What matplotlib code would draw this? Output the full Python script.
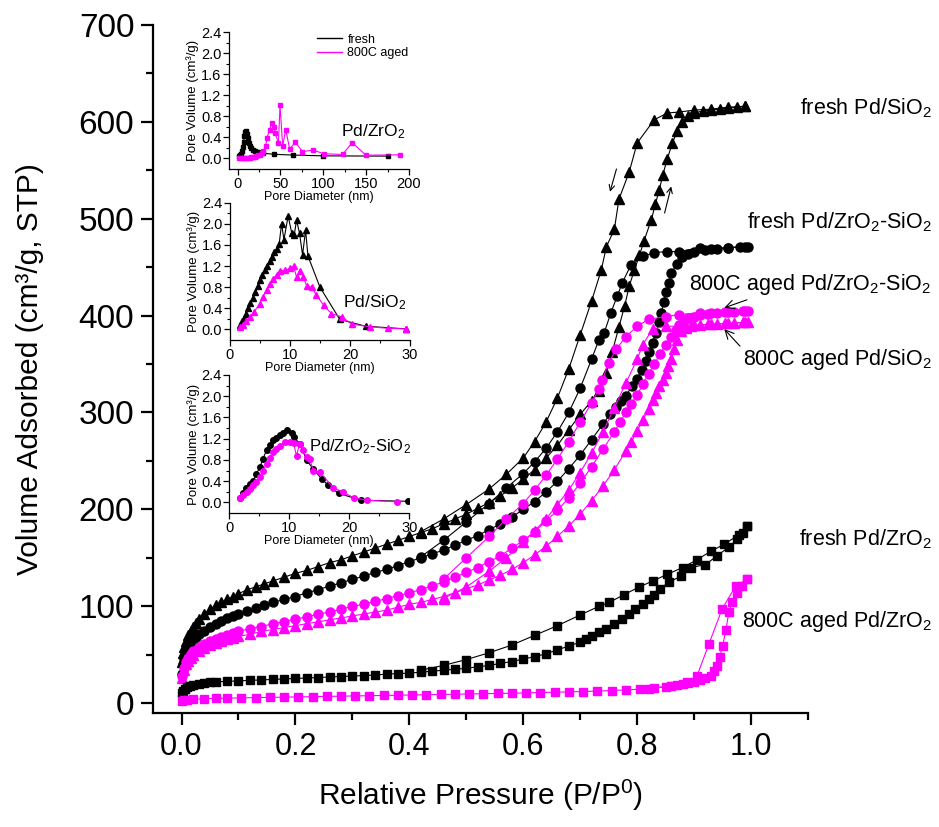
import numpy as np
import matplotlib
matplotlib.use("Agg")
from matplotlib import pyplot as plt

# ---- isotherm data (P/P0, cm3/g STP) ----
# fresh Pd/SiO2 (black triangles)
sio2_fresh_ads_p = [0.001, 0.003, 0.005, 0.008, 0.012, 0.016, 0.02, 0.025, 0.03, 0.04, 0.05, 0.06, 0.07, 0.08,
                    0.09, 0.10, 0.115, 0.13, 0.145, 0.16, 0.18, 0.20, 0.22, 0.24, 0.26, 0.28, 0.30, 0.32, 0.34,
                    0.36, 0.38, 0.40, 0.42, 0.44, 0.46, 0.48, 0.50, 0.52, 0.54, 0.56, 0.58, 0.60, 0.62, 0.64,
                    0.66, 0.68, 0.70, 0.72, 0.733, 0.746, 0.756, 0.768, 0.778, 0.786, 0.795, 0.804, 0.812, 0.825,
                    0.832, 0.839, 0.845, 0.853, 0.862, 0.87, 0.879, 0.89, 0.90, 0.915, 0.93, 0.945, 0.96, 0.975,
                    0.99]
sio2_fresh_ads_v = [42, 52, 58, 64, 70, 75, 79, 83, 87, 92, 97, 101, 104, 107,
                    110, 113, 117, 120, 123, 126, 130, 134, 137, 141, 145, 148, 152, 156, 160,
                    164, 168, 172, 176, 180, 185, 190, 195, 201, 207, 214, 222, 231, 241, 253,
                    266, 282, 298, 312, 322, 341, 362, 388, 410, 430, 447, 462, 477, 499,
                    515, 530, 545, 562, 578, 590, 600, 606, 609, 611, 612, 613, 614, 615,
                    616]
sio2_fresh_des_p = [0.99, 0.96, 0.93, 0.90, 0.874, 0.853, 0.83, 0.80, 0.786, 0.768, 0.76, 0.746, 0.737, 0.72, 0.70,
                    0.68, 0.66, 0.64, 0.62, 0.60, 0.57, 0.54, 0.50, 0.46, 0.42]
sio2_fresh_des_v = [616, 615, 613, 612, 610, 609, 602, 578, 548, 520, 489, 471, 447, 415, 380,
                    345, 315, 290, 270, 253, 236, 221, 205, 190, 177]

# fresh Pd/ZrO2-SiO2 (black circles)
zs_fresh_ads_p = [0.001, 0.003, 0.005, 0.008, 0.012, 0.016, 0.02, 0.025, 0.03, 0.04, 0.05, 0.06, 0.07, 0.08,
                  0.09, 0.10, 0.115, 0.13, 0.145, 0.16, 0.18, 0.20, 0.22, 0.24, 0.26, 0.28, 0.30, 0.32, 0.34,
                  0.36, 0.38, 0.40, 0.42, 0.44, 0.46, 0.48, 0.50, 0.52, 0.54, 0.56, 0.58, 0.60, 0.62, 0.64,
                  0.66, 0.68, 0.70, 0.72, 0.74, 0.752, 0.763, 0.772, 0.78, 0.791, 0.80, 0.809, 0.815, 0.821,
                  0.827, 0.833, 0.838, 0.842, 0.847, 0.851, 0.856, 0.86, 0.87, 0.879, 0.89, 0.90, 0.92, 0.94,
                  0.96, 0.98, 0.995]
zs_fresh_ads_v = [30, 40, 46, 52, 57, 61, 64, 68, 71, 75, 79, 82, 85, 88,
                  90, 92, 95, 98, 101, 104, 107, 110, 114, 117, 121, 124, 128, 131, 135,
                  138, 142, 146, 150, 154, 158, 163, 168, 173, 179, 185, 192, 200, 208, 218,
                  229, 242, 256, 272, 288, 298, 306, 312, 317, 327, 335, 344, 353, 362,
                  372, 382, 393, 403, 414, 424, 434, 444, 453, 460, 464, 466, 468, 469,
                  470, 471, 471]
zs_fresh_des_p = [0.99, 0.96, 0.93, 0.91, 0.874, 0.853, 0.83, 0.81, 0.789, 0.774, 0.765, 0.754, 0.742, 0.733, 0.72,
                  0.70, 0.68, 0.66, 0.64, 0.62, 0.60, 0.57, 0.54, 0.50, 0.46, 0.42]
zs_fresh_des_v = [471, 470, 469, 470, 466, 466, 465, 461, 452, 434, 420, 403, 382, 375, 355,
                  325, 300, 280, 263, 249, 237, 222, 206, 187, 168, 151]

# 800C aged Pd/ZrO2-SiO2 (magenta circles)
zs_aged_ads_p = [0.001, 0.004, 0.008, 0.012, 0.016, 0.02, 0.03, 0.04, 0.05, 0.06, 0.07, 0.08, 0.09, 0.10,
                 0.12, 0.14, 0.16, 0.18, 0.20, 0.22, 0.24, 0.26, 0.28, 0.30, 0.32, 0.34, 0.36, 0.38, 0.40,
                 0.42, 0.44, 0.46, 0.48, 0.50, 0.52, 0.54, 0.56, 0.58, 0.60, 0.62, 0.64, 0.66, 0.68, 0.70,
                 0.72, 0.74, 0.76, 0.77, 0.78, 0.79, 0.80, 0.81, 0.82, 0.83, 0.84, 0.85, 0.86, 0.868, 0.874,
                 0.882, 0.89, 0.90, 0.91, 0.925, 0.94, 0.955, 0.97, 0.985, 0.995]
zs_aged_ads_v = [28, 36, 42, 47, 51, 54, 58, 61, 64, 66, 68, 70, 72, 74,
                 77, 79, 82, 84, 87, 89, 92, 94, 97, 100, 102, 105, 108, 111, 114,
                 117, 121, 125, 130, 135, 140, 146, 152, 160, 168, 177, 188, 199, 212, 227,
                 244, 262, 280, 290, 300, 309, 318, 329, 340, 350, 360, 370, 378, 385, 390,
                 394, 397, 399, 401, 402, 403, 404, 404, 405, 405]
zs_aged_des_p = [0.99, 0.96, 0.93, 0.91, 0.874, 0.85, 0.82, 0.80, 0.78, 0.763, 0.75, 0.739, 0.733, 0.72, 0.70,
                 0.68, 0.66, 0.64, 0.62, 0.60, 0.57, 0.54, 0.50, 0.46]
zs_aged_des_v = [405, 404, 403, 403, 401, 399, 396, 389, 378, 365, 351, 334, 324, 310, 290,
                 270, 252, 235, 220, 206, 190, 172, 150, 128]

# 800C aged Pd/SiO2 (magenta triangles)
sio2_aged_ads_p = [0.001, 0.004, 0.008, 0.012, 0.016, 0.02, 0.03, 0.04, 0.05, 0.06, 0.07, 0.08, 0.09, 0.10,
                   0.12, 0.14, 0.16, 0.18, 0.20, 0.22, 0.24, 0.26, 0.28, 0.30, 0.32, 0.34, 0.36, 0.38, 0.40,
                   0.42, 0.44, 0.46, 0.48, 0.50, 0.52, 0.54, 0.56, 0.58, 0.60, 0.62, 0.64, 0.66, 0.68, 0.70,
                   0.72, 0.74, 0.76, 0.78, 0.79, 0.80, 0.81, 0.82, 0.827, 0.833, 0.839, 0.845, 0.85, 0.855,
                   0.86, 0.865, 0.87, 0.877, 0.885, 0.895, 0.91, 0.925, 0.94, 0.955, 0.97, 0.985, 0.995]
sio2_aged_ads_v = [26, 34, 40, 44, 47, 50, 54, 57, 60, 62, 64, 66, 67, 69,
                   71, 74, 76, 78, 80, 82, 84, 86, 88, 90, 92, 94, 96, 99, 102,
                   104, 107, 110, 114, 118, 122, 127, 132, 138, 145, 153, 162, 172, 183, 195,
                   209, 224, 241, 260, 270, 281, 292, 304, 313, 320, 327, 334, 341, 348,
                   355, 365, 375, 384, 387, 389, 390, 391, 391, 392, 392, 393, 393]
sio2_aged_des_p = [0.99, 0.96, 0.93, 0.90, 0.87, 0.85, 0.827, 0.81, 0.80, 0.78, 0.76, 0.74, 0.72, 0.70, 0.68,
                   0.66, 0.64, 0.62, 0.60, 0.57, 0.54, 0.50, 0.46]
sio2_aged_des_v = [393, 392, 391, 390, 389, 389, 386, 370, 355, 330, 305, 280, 258, 238, 220,
                   205, 190, 178, 166, 150, 136, 120, 108]

# fresh Pd/ZrO2 (black squares)
zr_fresh_ads_p = [0.001, 0.003, 0.006, 0.01, 0.015, 0.02, 0.03, 0.04, 0.05, 0.06, 0.08, 0.10, 0.12, 0.14, 0.16,
                  0.18, 0.20, 0.22, 0.24, 0.26, 0.28, 0.30, 0.32, 0.34, 0.36, 0.38, 0.40, 0.42, 0.44, 0.46,
                  0.48, 0.50, 0.52, 0.54, 0.56, 0.58, 0.60, 0.62, 0.64, 0.66, 0.68, 0.70, 0.71, 0.72, 0.733,
                  0.745, 0.76, 0.774, 0.785, 0.797, 0.81, 0.82, 0.83, 0.84, 0.856, 0.877, 0.895, 0.92, 0.94,
                  0.961, 0.976, 0.985, 0.993]
zr_fresh_ads_v = [10, 13, 15, 17, 18, 19, 20, 21, 21.5, 22, 22.5, 23, 23.5, 24, 24.5,
                  25, 25.5, 26, 26.5, 27, 27.5, 28, 28.5, 29, 30, 30.5, 31, 32, 33, 34,
                  35, 36, 37.5, 39, 41, 43, 45.5, 48, 51, 55, 59, 63, 66, 69, 73,
                  77, 82, 87, 92, 97, 102, 107, 112, 118, 125, 131, 140, 143, 152,
                  161, 169, 176, 183]
zr_fresh_des_p = [0.993, 0.979, 0.953, 0.93, 0.905, 0.88, 0.853, 0.827, 0.804, 0.777, 0.751, 0.733, 0.70, 0.66,
                  0.62, 0.58, 0.54, 0.50, 0.46, 0.42]
zr_fresh_des_v = [183, 174, 164, 157, 148, 140, 133, 126, 120, 112, 104, 100, 91, 80,
                  70, 60, 52, 45, 39, 34]

# 800C aged Pd/ZrO2 (magenta squares)
zr_aged_ads_p = [0.001, 0.005, 0.01, 0.02, 0.04, 0.06, 0.08, 0.105, 0.13, 0.155, 0.18, 0.205, 0.23, 0.255,
                 0.28, 0.305, 0.33, 0.355, 0.38, 0.405, 0.43, 0.455, 0.48, 0.505, 0.53, 0.555, 0.58, 0.605,
                 0.63, 0.655, 0.68, 0.705, 0.73, 0.755, 0.78, 0.805, 0.83, 0.85, 0.86, 0.87, 0.88, 0.89, 0.90,
                 0.91, 0.92, 0.93, 0.935, 0.94, 0.945, 0.95, 0.956, 0.961, 0.967, 0.975, 0.984, 0.993]
zr_aged_ads_v = [2, 3, 3.5, 4, 4.5, 5, 5.2, 5.5, 5.8, 6, 6.2, 6.5, 6.7, 7,
                 7.2, 7.5, 7.7, 8, 8.2, 8.5, 8.7, 9, 9.2, 9.5, 9.8, 10, 10.3, 10.6,
                 11, 11.3, 11.7, 12, 12.5, 13, 13.7, 14.5, 15.5, 17, 18, 19, 20, 21, 22,
                 24, 26, 28, 33, 38, 48, 59, 76, 94, 104, 114, 121, 128]
zr_aged_des_p = [0.993, 0.973, 0.949, 0.926, 0.905, 0.887, 0.86, 0.82]
zr_aged_des_v = [128, 121, 97, 61, 28, 22, 18, 15]

# ---- pore size distributions (nm, cm3/g) ----
psd_zr_fresh_d = [2, 3, 4, 5, 6, 7, 8, 9, 10, 11, 12, 13, 14, 16, 18, 20, 24, 30, 42, 65, 100, 175]
psd_zr_fresh_v = [0.04, 0.06, 0.09, 0.14, 0.22, 0.32, 0.42, 0.50, 0.52, 0.47, 0.38, 0.30, 0.24, 0.20, 0.17,
                  0.15, 0.13, 0.10, 0.08, 0.065, 0.05, 0.045]
psd_zr_aged_d = [2, 4, 6, 8, 10, 12, 14, 16, 18, 20, 22, 24, 26, 28, 30, 32.7, 34.3, 37.4, 39.8, 42.5, 44, 47.6,
                 49.5, 52.6, 56.1, 60.8, 67.4, 75.6, 88.1, 100.6, 122.4, 133.7, 149.7, 189.5]
psd_zr_aged_v = [0.0, 0.0, 0.005, 0.008, 0.01, 0.013, 0.017, 0.022, 0.028, 0.035, 0.045, 0.058, 0.075, 0.10, 0.14,
                 0.235, 0.39, 0.55, 0.68, 0.60, 0.48, 0.29, 1.01, 0.235, 0.55, 0.18, 0.31, 0.13, 0.16, 0.09,
                 0.076, 0.30, 0.063, 0.07]

psd_si_fresh_d = [1.7, 2.0, 2.3, 2.6, 3.0, 3.4, 3.8, 4.2, 4.6, 5.0, 5.4, 5.8, 6.2, 6.6, 7.0, 7.4, 7.8, 8.2,
                  8.6, 9.0, 9.7, 10.3, 10.7, 11.1, 11.6, 12.1, 12.6, 13.0, 15.0, 18.3, 22.6, 29.4]
psd_si_fresh_v = [0.08, 0.15, 0.22, 0.30, 0.40, 0.50, 0.60, 0.70, 0.82, 0.93, 1.03, 1.12, 1.20, 1.30, 1.38, 1.46,
                  1.53, 1.62, 2.0, 1.70, 2.15, 1.82, 1.78, 2.07, 1.82, 1.41, 1.88, 1.39, 0.80, 0.19, 0.06, 0.01]
psd_si_aged_d = [1.7, 2.2, 2.7, 3.3, 4.0, 5.0, 5.5, 6.1, 6.6, 7.2, 7.8, 8.3, 9.2, 10.0, 10.6, 11.1, 11.7, 12.2,
                 12.8, 13.6, 14.4, 15.6, 16.9, 18.6, 20.3, 23.3, 26.4, 29.4]
psd_si_aged_v = [0.05, 0.09, 0.15, 0.23, 0.33, 0.49, 0.62, 0.75, 0.86, 0.95, 1.04, 1.11, 1.12, 1.16, 1.20, 0.99,
                 1.11, 1.00, 0.82, 0.80, 0.65, 0.46, 0.30, 0.24, 0.10, 0.05, 0.02, 0.01]

psd_zs_fresh_d = [1.8, 2.3, 2.8, 3.4, 4.0, 4.5, 5.1, 5.6, 6.2, 6.7, 7.3, 7.8, 8.4, 9.0, 9.6, 10.4, 10.7, 11.8,
                  12.9, 14.0, 15.4, 16.5, 18.2, 22.0, 29.8]
psd_zs_fresh_v = [0.09, 0.18, 0.27, 0.35, 0.41, 0.54, 0.66, 0.82, 0.98, 1.08, 1.17, 1.22, 1.26, 1.30, 1.36,
                  1.30, 1.23, 1.10, 0.79, 0.63, 0.44, 0.32, 0.17, 0.04, 0.02]
psd_zs_aged_d = [1.8, 2.3, 2.9, 3.4, 4.0, 4.5, 5.1, 5.6, 6.2, 6.7, 7.3, 7.8, 8.4, 9.3, 10.1, 10.7, 11.2, 11.7,
                 12.2, 12.9, 13.4, 14.0, 15.1, 17.3, 19.0, 20.7, 22.9, 28.0]
psd_zs_aged_v = [0.08, 0.13, 0.19, 0.25, 0.32, 0.39, 0.47, 0.60, 0.73, 0.84, 0.95, 1.01, 1.07, 1.14, 1.14, 1.12,
                 0.88, 1.10, 0.98, 0.85, 0.82, 0.60, 0.57, 0.28, 0.19, 0.09, 0.04, 0.01]

BLACK = "black"
MAGENTA = "#ff00ff"


def branch(ax, p, v, color, marker, ms, lw=0.8):
    ax.plot(p, v, color=color, marker=marker, markersize=ms, markeredgecolor=color,
            markerfacecolor=color, linewidth=lw, clip_on=False)


def style_inset(ax, xlim, xticks, xminor):
    ax.set_xlim(*xlim)
    ax.set_ylim(-0.2, 2.4)
    ax.set_xticks(xticks)
    ax.set_xticks(xminor, minor=True)
    ax.set_yticks(np.arange(0, 2.41, 0.4))
    ax.set_yticks(np.arange(0.2, 2.41, 0.4), minor=True)
    ax.set_yticklabels(["%.1f" % t for t in np.arange(0, 2.41, 0.4)])
    for s in ("top", "right"):
        ax.spines[s].set_visible(False)
    for s in ("left", "bottom"):
        ax.spines[s].set_linewidth(0.9)
    ax.tick_params(which="major", direction="out", length=4, width=0.9, labelsize=10.5, pad=1.5)
    ax.tick_params(which="minor", direction="out", length=2, width=0.8)
    ax.set_xlabel("Pore Diameter (nm)", fontsize=9, labelpad=0)
    ax.set_ylabel("Pore Volume (cm³/g)", fontsize=9.5, labelpad=1)
    ax.patch.set_alpha(0)


def main():
    plt.rcParams["font.family"] = ["Liberation Sans", "DejaVu Sans"]
    plt.rcParams["mathtext.fontset"] = "custom"
    plt.rcParams["mathtext.rm"] = "Liberation Sans"
    plt.rcParams["mathtext.it"] = "Liberation Sans:italic"

    fig = plt.figure(figsize=(9.39, 8.27), dpi=100)
    ax = fig.add_axes([0.163, 0.138, 0.6975, 0.832])

    branch(ax, sio2_fresh_ads_p, sio2_fresh_ads_v, BLACK, "^", 7.5)
    branch(ax, sio2_fresh_des_p, sio2_fresh_des_v, BLACK, "^", 7.5)
    branch(ax, zs_fresh_ads_p, zs_fresh_ads_v, BLACK, "o", 6.5)
    branch(ax, zs_fresh_des_p, zs_fresh_des_v, BLACK, "o", 6.5)
    branch(ax, zs_aged_ads_p, zs_aged_ads_v, MAGENTA, "o", 6.5)
    branch(ax, zs_aged_des_p, zs_aged_des_v, MAGENTA, "o", 6.5)
    branch(ax, sio2_aged_ads_p, sio2_aged_ads_v, MAGENTA, "^", 7.5)
    branch(ax, sio2_aged_des_p, sio2_aged_des_v, MAGENTA, "^", 7.5)
    branch(ax, zr_fresh_ads_p, zr_fresh_ads_v, BLACK, "s", 6)
    branch(ax, zr_fresh_des_p, zr_fresh_des_v, BLACK, "s", 6)
    branch(ax, zr_aged_ads_p, zr_aged_ads_v, MAGENTA, "s", 6)
    branch(ax, zr_aged_des_p, zr_aged_des_v, MAGENTA, "s", 6)

    ax.set_xlim(-0.05, 1.1)
    ax.set_ylim(-10, 700)
    ax.set_xticks(np.arange(0, 1.01, 0.2))
    ax.set_xticks(np.arange(0.1, 1.11, 0.2), minor=True)
    ax.set_yticks(np.arange(0, 701, 100))
    ax.set_yticks(np.arange(50, 700, 100), minor=True)
    ax.set_xticklabels(["%.1f" % t for t in np.arange(0, 1.01, 0.2)], fontsize=22)
    ax.set_yticklabels([str(t) for t in range(0, 701, 100)], fontsize=24)
    for s in ("top", "right"):
        ax.spines[s].set_visible(False)
    for s in ("left", "bottom"):
        ax.spines[s].set_linewidth(1.6)
    ax.tick_params(which="major", direction="out", length=8.5, width=1.6, pad=5)
    ax.tick_params(which="minor", direction="out", length=5, width=1.6)
    ax.set_xlabel("Relative Pressure (P/P$^\\mathregular{0}$)", fontsize=21.5, labelpad=12)
    ax.set_ylabel("Volume Adsorbed (cm³/g, STP)", fontsize=21.5, labelpad=25)

    # hysteresis direction arrows
    arr = dict(arrowstyle="->", color=BLACK, lw=0.8)
    ax.annotate("", xy=(0.751, 525), xytext=(0.765, 554), arrowprops=arr)
    ax.annotate("", xy=(0.861, 536), xytext=(0.847, 503), arrowprops=arr)

    # sample labels
    tx = 1.3175
    fs = 15.5
    ax.text(tx, 614, "fresh Pd/SiO$_\\mathregular{2}$", ha="right", va="center", fontsize=fs)
    ax.text(tx, 496, "fresh Pd/ZrO$_\\mathregular{2}$-SiO$_\\mathregular{2}$", ha="right", va="center", fontsize=fs)
    ax.annotate("800C aged Pd/ZrO$_\\mathregular{2}$-SiO$_\\mathregular{2}$", xy=(0.953, 408), xytext=(tx, 432),
                ha="right", va="center", fontsize=fs,
                arrowprops=dict(arrowstyle="->", color=BLACK, lw=0.8, shrinkA=0, shrinkB=0,
                                relpos=(0.27, 0.0)))
    ax.annotate("800C aged Pd/SiO$_\\mathregular{2}$", xy=(0.953, 386), xytext=(tx, 355),
                ha="right", va="center", fontsize=fs,
                arrowprops=dict(arrowstyle="->", color=BLACK, lw=0.8, shrinkA=0, shrinkB=0,
                                relpos=(0.0, 0.9)))
    ax.text(tx, 169, "fresh Pd/ZrO$_\\mathregular{2}$", ha="right", va="center", fontsize=fs)
    ax.text(tx, 84, "800C aged Pd/ZrO$_\\mathregular{2}$", ha="right", va="center", fontsize=fs)

    # insets: pore size distributions
    in1 = fig.add_axes([0.2439, 0.7956, 0.1917, 0.1657])
    in1.plot(psd_zr_fresh_d, psd_zr_fresh_v, color=BLACK, marker="s", markersize=3.5, linewidth=0.8, label="fresh")
    in1.plot(psd_zr_aged_d, psd_zr_aged_v, color=MAGENTA, marker="s", markersize=3.5, linewidth=0.8,
             label="800C aged")
    style_inset(in1, (-10, 200), np.arange(0, 201, 50), np.arange(25, 200, 50))
    leg = in1.legend(loc="upper right", bbox_to_anchor=(1.06, 1.07), frameon=False, fontsize=9,
                     handlelength=2.0, labelspacing=0.1, handletextpad=0.4)
    for h in leg.get_lines():
        h.set_marker("")
        h.set_linewidth(1.0)
    in1.text(0.98, 0.27, "Pd/ZrO$_\\mathregular{2}$", transform=in1.transAxes, ha="right", va="center",
             fontsize=12.5)

    in2 = fig.add_axes([0.2449, 0.5889, 0.1917, 0.166])
    in2.plot(psd_si_fresh_d, psd_si_fresh_v, color=BLACK, marker="^", markersize=4, linewidth=0.8)
    in2.plot(psd_si_aged_d, psd_si_aged_v, color=MAGENTA, marker="^", markersize=4, linewidth=0.8)
    style_inset(in2, (0, 30), np.arange(0, 31, 10), np.arange(5, 30, 10))
    in2.text(0.98, 0.27, "Pd/SiO$_\\mathregular{2}$", transform=in2.transAxes, ha="right", va="center",
             fontsize=12.5)

    in3 = fig.add_axes([0.2442, 0.3797, 0.1917, 0.1669])
    in3.plot(psd_zs_fresh_d, psd_zs_fresh_v, color=BLACK, marker="o", markersize=4, linewidth=0.8)
    in3.plot(psd_zs_aged_d, psd_zs_aged_v, color=MAGENTA, marker="o", markersize=4, linewidth=0.8)
    style_inset(in3, (0, 30), np.arange(0, 31, 10), np.arange(5, 30, 10))
    in3.text(1.01, 0.48, "Pd/ZrO$_\\mathregular{2}$-SiO$_\\mathregular{2}$", transform=in3.transAxes, ha="right",
             va="center", fontsize=12)

    fig.savefig("out.png", dpi=100)


if __name__ == "__main__":
    main()
